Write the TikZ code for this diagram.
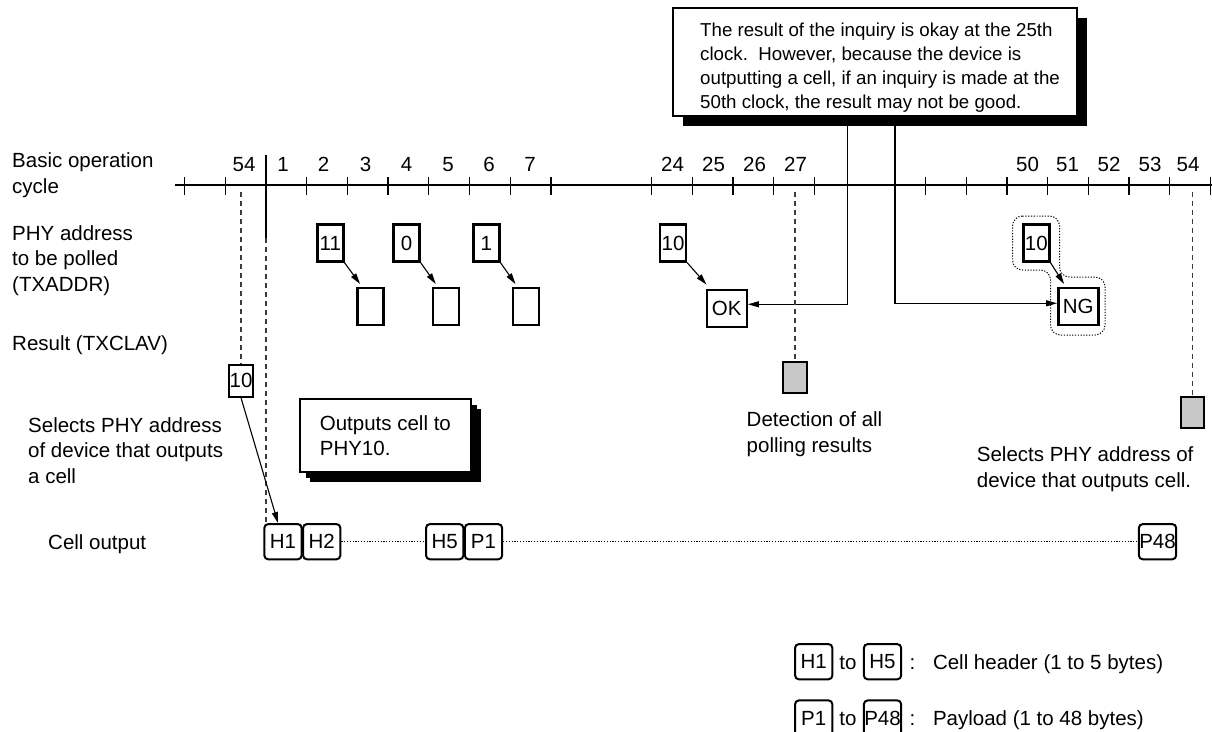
\documentclass[tikz,border=0pt]{standalone}
\usepackage{fontspec}
\setmainfont{Liberation Sans}
\usetikzlibrary{arrows.meta, shadows}
\definecolor{ResultGrey}{HTML}{C8C8C8}
\definecolor{DashGrey}{HTML}{3C3C3C}
\tikzset{
    % Box styles
    addrbox/.style={
        rectangle,
        draw=black,
        fill=white,
        line width=2.4pt,
        inner sep=0pt,
        minimum width=26pt,
        minimum height=37pt,
        font=\fontsize{20.5}{24}\selectfont
    },
    resbox/.style={
        addrbox,
        minimum width=40pt
    },
    smallbox/.style={
        addrbox,
        line width=2.2pt,
        minimum width=23.5pt,
        minimum height=31.7pt
    },
    greybox/.style={
        smallbox,
        fill=ResultGrey
    },
    cellbox/.style={
        rectangle,
        rounded corners=4pt,
        draw=black,
        fill=white,
        line width=2pt,
        inner sep=0pt,
        minimum width=37.4pt,
        minimum height=35.3pt,
        font=\fontsize{20.5}{24}\selectfont
    },
    notebox/.style={
        rectangle,
        draw=black,
        fill=white,
        line width=1.8pt,
        drop shadow={shadow xshift=10pt, shadow yshift=-10pt, fill=black, opacity=1}
    },
    % Text styles (base west = baseline of the last line)
    lbl/.style={
        anchor=base west,
        align=left,
        inner sep=0pt,
        font=\fontsize{20.5}{25.4}\selectfont
    },
    cyc/.style={
        anchor=base,
        inner sep=0pt,
        font=\fontsize{20.5}{24}\selectfont
    },
    % Line styles
    arr/.style={
        -{Triangle[length=11pt,width=6pt]},
        line width=1.1pt
    },
    tick/.style={
        line width=1.3pt
    },
    dashline/.style={
        DashGrey,
        line width=1.1pt,
        dash pattern=on 5pt off 4pt
    },
    dotline/.style={
        line width=1pt,
        dash pattern=on 1.2pt off 1.6pt
    }
}
\begin{document}
\begin{tikzpicture}[x=1pt, y=-1pt]
    \useasboundingbox (0,0) rectangle (1212,731);

    % Row labels
    \node[lbl] (lblcycle) at (12,193.3) {Basic operation\\cycle};
    \node[lbl] (lblphy) at (12,291) {PHY address\\to be polled\\(TXADDR)};
    \node[lbl] (lblres) at (12,350.7) {Result (TXCLAV)};
    \node[lbl] (lblsel) at (28,483) {Selects PHY address\\of device that outputs\\a cell};
    \node[lbl] (lblcell) at (48,549) {Cell output};

    % Cycle axis
    \draw[tick] (175,185) -- (1212,185);
    \foreach \x in {184.6,225.3,306.7,347.4,388.1,428.8,469.5,510.2,550.9,
                    651.7,692.4,733,773.7,814.3,
                    925.7,966.4,1007,1047.7,1088.3,1129,1169.6,1210.3}
        \draw[tick] (\x,177.3) -- (\x,195);
    \coordinate (dtop) at (0,191.7);
    \coordinate (cut0) at (266,155);
    \coordinate (cut1) at (266,238);
    \draw[line width=2.8pt] (cut0) -- (cut1);

    \node[cyc] (cA54) at (244,171.7) {54};
    \node[cyc] (cA1) at (283,171.7) {1};
    \node[cyc] (cA2) at (323.5,171.7) {2};
    \node[cyc] (cA3) at (365.5,171.7) {3};
    \node[cyc] (cA4) at (406.5,171.7) {4};
    \node[cyc] (cA5) at (448,171.7) {5};
    \node[cyc] (cA6) at (489,171.7) {6};
    \node[cyc] (cA7) at (530,171.7) {7};
    \node[cyc] (cB24) at (672.5,171.7) {24};
    \node[cyc] (cB25) at (713.5,171.7) {25};
    \node[cyc] (cB26) at (754.5,171.7) {26};
    \node[cyc] (cB27) at (795.5,171.7) {27};
    \node[cyc] (cC50) at (1027.5,171.7) {50};
    \node[cyc] (cC51) at (1067.5,171.7) {51};
    \node[cyc] (cC52) at (1109,171.7) {52};
    \node[cyc] (cC53) at (1150,171.7) {53};
    \node[cyc] (cC54) at (1188,171.7) {54};

    % Polled addresses and results
    \node[addrbox] (p11) at (330.3,243) {11};
    \node[addrbox] (p0) at (406.5,243) {0};
    \node[addrbox] (p1) at (486.3,243) {1};
    \node[addrbox] (p10a) at (673,243) {10};
    \node[addrbox] (p10b) at (1036.3,243) {10};

    \node[addrbox] (r11) at (370.3,306.7) {};
    \node[addrbox] (r0) at (446,306.7) {};
    \node[addrbox] (r1) at (525.7,306.7) {};
    \node[resbox] (ok) at (726.7,308.3) {OK};
    \node[resbox] (ng) at (1078.3,306.7) {NG};

    \draw[arr] (p11.south east) -- ([xshift=4pt,yshift=3pt]r11.north west);
    \draw[arr] (p0.south east) -- ([xshift=4pt,yshift=3pt]r0.north west);
    \draw[arr] (p1.south east) -- ([xshift=4pt,yshift=3pt]r1.north west);
    \draw[arr] (p10a.south east) -- ([xshift=1pt,yshift=4pt]ok.north west);
    \draw[arr] (p10b.south east) -- ([xshift=7pt,yshift=3pt]ng.north west);

    % Group round 10 and NG
    \draw[dotline, rounded corners=10pt] (1012.5,216) -- (1059.5,216) -- (1059.5,277)
        -- (1105,277) -- (1105,335) -- (1050.5,335) -- (1050.5,270) -- (1012.5,270) -- cycle;

    % Note at the top
    \node[notebox, minimum width=403.4pt, minimum height=108pt] (note) at (875,62.2) {};
    \node[anchor=base west, align=left, inner sep=0pt, font=\fontsize{18.7}{24}\selectfont]
        (notetext) at (700,108) {The result of the inquiry is okay at the 25th\\clock.\ \ However, because the device is\\outputting a cell, if an inquiry is made at the\\50th clock, the result may not be good.};
    \draw[arr] ([xshift=-27.4pt]note.south) |- ([yshift=4pt]ok.east);
    \draw[arr] ([xshift=20pt]note.south) |- ([yshift=3.4pt]ng.west);

    % Detection and selection
    \node[smallbox] (sel10) at (241,380.8) {10};
    \node[greybox] (grey27) at (795,377.5) {};
    \node[greybox] (grey54) at (1192.5,412.5) {};
    \draw[dashline] (sel10.north |- dtop) -- (sel10.north);
    \draw[dashline] (grey27.north |- dtop) -- (grey27.north);
    \draw[dashline] (grey54.north |- dtop) -- (grey54.north);

    \node[lbl] (lbldet) at (746.5,452) {Detection of all\\polling results};
    \node[lbl] (lblsel2) at (976.7,487) {Selects PHY address of\\device that outputs cell.};

    \node[notebox, drop shadow={shadow xshift=6pt, shadow yshift=-6pt, fill=black, opacity=1},
        minimum width=170.7pt, minimum height=72.4pt, align=left,
        font=\fontsize{20.5}{25}\selectfont] (outbox) at (385.35,435.5) {Outputs cell to\\PHY10.};

    % Cell output
    \node[cellbox] (h1) at (283,541.7) {H1};
    \node[cellbox] (h2) at (321.7,541.7) {H2};
    \node[cellbox] (h5) at (444.7,541.7) {H5};
    \node[cellbox] (pl1) at (483.5,541.7) {P1};
    \node[cellbox] (pl48) at (1157.5,541.7) {P48};
    \draw[dotline] (h2.east) -- (h5.west);
    \draw[dotline] (pl1.east) -- (pl48.west);

    \draw[dashline] (cut1) -- (cut1 |- h1.north);
    \draw[arr] (sel10.south) -- ([xshift=-5pt]h1.north);

    % Legend
    \node[cellbox] (lh1) at (813.7,661.7) {H1};
    \node[cellbox] (lh5) at (882.5,661.7) {H5};
    \node[cyc] (lto1) at (848,669) {to};
    \node[cyc] (lcol1) at (912.4,669) {:};
    \node[lbl] (lhdr) at (932.8,669) {Cell header (1 to 5 bytes)};

    \node[cellbox] (lp1) at (813.7,718) {P1};
    \node[cellbox] (lp48) at (882.5,718) {P48};
    \node[cyc] (lto2) at (848,725.5) {to};
    \node[cyc] (lcol2) at (912.4,725.5) {:};
    \node[lbl] (lpay) at (932.8,725.5) {Payload (1 to 48 bytes)};
\end{tikzpicture}
\end{document}
